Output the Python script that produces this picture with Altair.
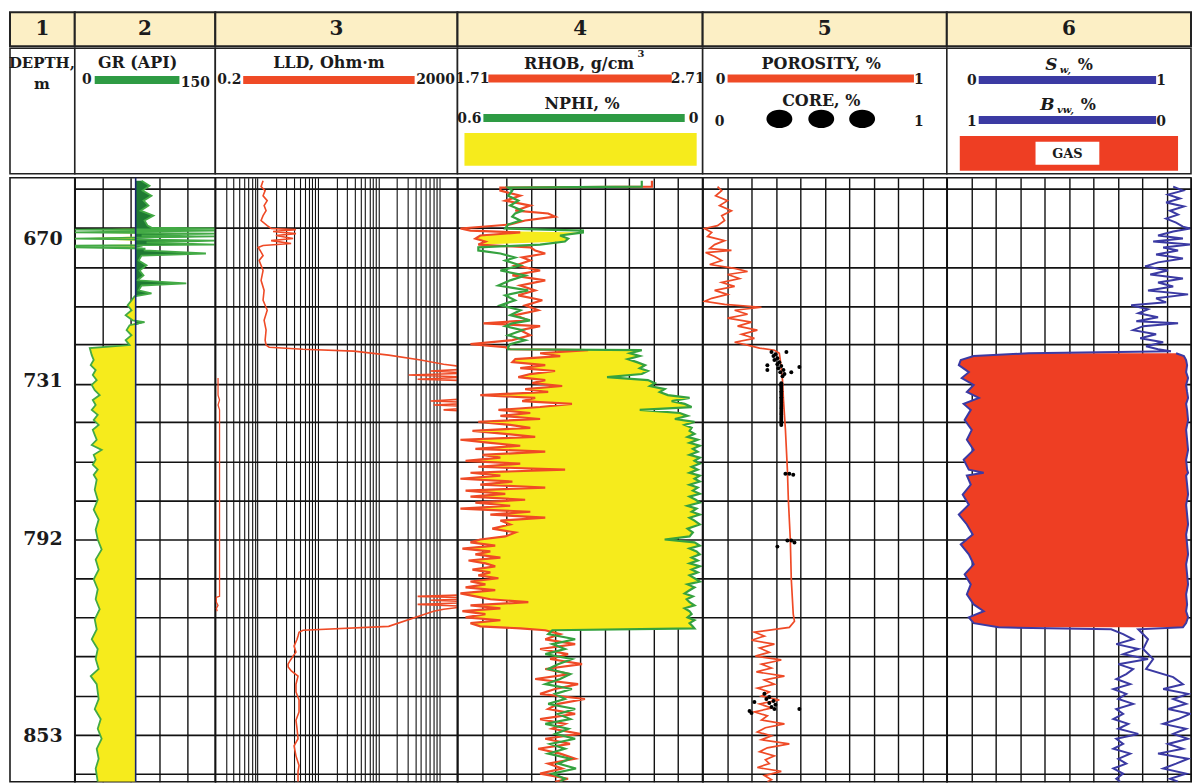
import altair as alt
import pandas as pd
import numpy as np

SERIF = "DejaVu Serif"
TXT = "#1b1b1b"
YELLOW = "#F6EB1C"
DKGREEN = "#1F7A33"
GRLINE = "#43AA45"
RED = "#EF4A26"
GREEN_BAR = "#2E9B44"
NPHI_GREEN = "#35A23F"
BLUE = "#3B3AA3"
GASRED = "#EE3E23"
TITLEBG = "#FCEFC5"
GRID = "#121212"
NAVY = "#18256B"

# ---------------- data ----------------
track_titles = ["1", "2", "3", "4", "5", "6"]
depth_labels = [670, 731, 792, 853]
grid_depths = [648.7, 665.3, 682.2, 698.8, 715.4, 732.0, 746.9, 761.9, 777.0,
               792.0, 804.0, 816.1, 828.1, 840.5, 852.5, 864.5]
GR_CUT = 65

gr_log = [(645.3, 71.3), (647.4, 79.8), (649.5, 72.4), (651.7, 81.9), (653.8, 73.4), (655.9, 78.7),
          (658.1, 70.2), (660.2, 84.0), (662.3, 74.5), (664.5, 77.7), (665.3, 81.9), (665.7, 150),
          (666.2, 0), (666.6, 150), (667.0, 71.3), (667.4, 0), (667.9, 150), (668.7, 71.3),
          (669.1, 150), (670.0, 0), (670.9, 150), (671.7, 76.6), (672.6, 150), (673.0, 0),
          (673.4, 72.4), (673.8, 0), (674.3, 74.5), (675.1, 74.5), (676.4, 140), (677.3, 71.3),
          (679.4, 68.1), (681.5, 76.6), (683.7, 69.2), (685.8, 73.4), (687.9, 67.0), (689.2, 119),
          (690.1, 71.3), (692.2, 68.1), (693.5, 81.9), (694.7, 63.8), (696.4, 60.6), (698.6, 56.4),
          (700.7, 60.6), (702.8, 54.3), (705.0, 61.7), (705.8, 74.5), (707.1, 58.5), (709.2, 55.3),
          (711.4, 60.6), (713.5, 54.3), (715.6, 58.5), (716.9, 16.0), (719.9, 18.1), (722.0, 20.2),
          (724.2, 17.0), (726.3, 22.3), (728.4, 19.2), (730.6, 23.4), (732.5, 18.1), (734.5, 21.3),
          (736.4, 26.6), (738.3, 19.2), (740.2, 22.3), (742.1, 18.1), (744.0, 24.5), (746.0, 20.2),
          (747.9, 25.5), (749.8, 19.2), (751.7, 21.3), (753.6, 23.4), (755.6, 18.1), (757.5, 28.7),
          (759.4, 20.2), (761.3, 22.3), (763.2, 19.2), (765.1, 24.5), (767.1, 20.2), (769.0, 23.4),
          (772.8, 21.3), (776.7, 24.5), (780.5, 20.2), (784.3, 25.5), (788.2, 22.3), (792.0, 24.5),
          (795.1, 28.7), (798.2, 22.3), (801.3, 25.5), (804.3, 20.2), (807.4, 24.5), (810.5, 22.3),
          (813.6, 26.6), (816.7, 21.3), (819.8, 23.4), (822.9, 18.1), (825.9, 24.5), (829.0, 22.3),
          (832.1, 25.5), (834.3, 17.0), (836.8, 23.4), (841.4, 25.5), (844.5, 21.3), (847.6, 27.7),
          (850.6, 24.5), (853.7, 28.7), (856.8, 23.4), (859.9, 25.5), (862.9, 22.3), (867.0, 24.5)]

lld_log = [(645.3, 1.23), (647.8, 1.14), (649.5, 1.33), (651.7, 1.23), (653.8, 1.44), (655.9, 1.28),
           (658.1, 1.38), (660.2, 1.23), (662.3, 1.14), (664.5, 1.44), (665.7, 1.67), (666.2, 4.3),
           (667.0, 1.8), (667.9, 4.3), (668.7, 2.0), (670.0, 3.85), (670.9, 1.67), (672.1, 3.57),
           (673.0, 1.23), (673.8, 1.02), (675.1, 1.10), (677.3, 1.23), (679.4, 1.06), (681.5, 1.14),
           (683.7, 1.23), (687.9, 1.14), (692.2, 1.28), (696.4, 1.23), (700.7, 1.44), (705.0, 1.28),
           (709.2, 1.38), (713.5, 1.33), (715.6, 1.38), (716.5, 1.55), (717.4, 5.62), (718.2, 38.8),
           (719.9, 146), (722.0, 492), (723.8, 1178), (725.0, 2600), (725.9, 3000), (726.7, 719),
           (727.6, 3000), (728.4, 312), (729.3, 3000), (730.2, 439), (731.0, 5000), (737.5, 5000),
           (738.7, 719), (739.4, 5000), (740.2, 806), (741.0, 5000), (742.1, 1178), (742.9, 5000),
           (809.0, 5000), (809.6, 439), (810.2, 5000), (810.8, 719), (811.4, 5000), (812.1, 439),
           (812.7, 3000), (813.6, 1178), (814.2, 806), (818.9, 146), (820.1, 5.62), (820.7, 4.83),
           (821.9, 4.65), (822.9, 4.48), (825.0, 4.0), (826.9, 4.3), (828.1, 3.85), (829.3, 3.5),
           (830.6, 3.18), (831.5, 3.2), (832.7, 3.6), (834.3, 4.65), (836.8, 4.3), (839.2, 4.3),
           (841.7, 4.83), (845.4, 4.83), (848.0, 4.3), (850.6, 4.48), (853.7, 4.65), (855.9, 4.0),
           (859.0, 4.3), (862.0, 4.83), (863.8, 4.65), (867.0, 4.65)]

lld_backup = [(729.7, 0.222), (736.4, 0.222), (738.3, 0.235), (740.2, 0.222), (742.1, 0.235),
              (746.0, 0.235), (809.6, 0.235), (809.9, 0.208), (811.4, 0.208), (812.4, 0.222),
              (813.3, 0.208), (814.2, 0.215)]

# depth, RHOB (g/cm3), NPHI (fraction)
dn_log = [(645.3, 2.503, 0.149), (647.8, 2.503, 0.149), (648.2, 1.885, 0.476), (649.5, 1.885, 0.466),
          (651.7, 1.966, 0.476), (653.8, 1.905, 0.451), (655.9, 2.007, 0.471), (658.1, 1.946, 0.441),
          (659.3, 2.080, 0.459), (660.6, 2.108, 0.466), (662.3, 1.986, 0.446), (664.0, 1.925, 0.476),
          (665.7, 1.722, 0.483), (666.6, 1.763, 0.293), (667.4, 1.966, 0.293), (668.7, 1.803, 0.349),
          (670.0, 1.783, 0.329), (671.3, 1.824, 0.337), (672.6, 1.795, 0.398), (673.8, 2.007, 0.549),
          (675.1, 2.027, 0.549), (676.4, 2.068, 0.495), (678.1, 1.974, 0.459), (679.4, 2.007, 0.483),
          (681.5, 1.946, 0.446), (683.7, 2.047, 0.495), (685.8, 1.934, 0.434), (687.9, 2.068, 0.471),
          (690.1, 1.966, 0.500), (692.2, 2.027, 0.427), (694.3, 1.958, 0.483), (696.4, 2.056, 0.459),
          (698.6, 1.986, 0.495), (700.7, 2.039, 0.446), (702.8, 1.946, 0.471), (705.0, 1.999, 0.422),
          (706.3, 1.816, 0.466), (707.5, 2.047, 0.483), (709.2, 1.966, 0.441), (711.4, 2.007, 0.476),
          (713.5, 1.934, 0.434), (715.2, 1.763, 0.471), (716.5, 1.905, 0.476), (717.4, 1.925, 0.476),
          (717.8, 2.243, 0.149), (719.1, 2.047, 0.178), (720.3, 2.129, 0.154), (721.6, 1.946, 0.183),
          (722.9, 1.934, 0.161), (724.2, 2.068, 0.141), (725.5, 1.966, 0.154), (726.7, 2.108, 0.134),
          (728.0, 2.007, 0.149), (729.3, 1.958, 0.234), (730.6, 2.068, 0.134), (731.8, 2.015, 0.117),
          (732.9, 2.137, 0.129), (734.1, 1.986, 0.093), (735.2, 2.080, 0.105), (736.4, 1.803, 0.085),
          (737.5, 2.027, 0.032), (738.7, 1.974, 0.076), (739.8, 2.177, 0.044), (741.0, 2.047, 0.027),
          (742.1, 1.877, 0.154), (743.3, 2.007, 0.056), (744.4, 1.885, 0.037), (745.6, 2.047, 0.068),
          (746.7, 1.795, 0.020), (747.9, 1.925, 0.044), (749.0, 2.007, 0.027), (750.2, 1.771, 0.032),
          (751.3, 1.905, 0.020), (752.5, 2.027, 0.037), (753.6, 1.722, 0.012), (754.8, 1.844, 0.032),
          (755.9, 1.966, 0.007), (757.1, 1.783, 0.024), (758.2, 2.068, 0.012), (759.4, 1.812, 0.032),
          (760.5, 1.885, 0.007), (761.7, 1.743, 0.020), (762.8, 1.966, 0.007), (764.0, 1.795, 0.027),
          (765.1, 2.149, 0.012), (766.3, 1.763, 0.032), (767.4, 1.885, 0.007), (768.6, 1.722, 0.020),
          (769.7, 1.934, 0.007), (770.9, 1.803, 0.032), (772.0, 2.068, 0.012), (773.2, 1.743, 0.024),
          (774.4, 1.905, 0.007), (775.5, 1.763, 0.032), (776.7, 1.986, 0.017), (777.8, 1.783, 0.007),
          (779.0, 1.925, 0.037), (780.1, 1.722, 0.015), (781.3, 2.007, 0.027), (782.4, 1.844, 0.007),
          (783.6, 2.068, 0.032), (784.7, 1.885, 0.020), (786.2, 1.925, 0.007), (787.8, 1.852, 0.037),
          (789.3, 1.946, 0.024), (790.8, 1.905, 0.032), (792.0, 1.803, 0.093), (792.9, 1.763, 0.020),
          (793.9, 1.864, 0.007), (794.8, 1.730, 0.032), (795.7, 1.844, 0.015), (796.6, 1.783, 0.007),
          (797.6, 1.885, 0.027), (798.5, 1.755, 0.012), (799.4, 1.824, 0.032), (800.3, 1.864, 0.007),
          (801.3, 1.771, 0.027), (802.2, 1.844, 0.012), (803.1, 1.795, 0.032), (804.0, 1.877, 0.020),
          (805.0, 1.763, 0.007), (805.9, 1.824, 0.037), (806.8, 1.743, 0.020), (807.7, 1.864, 0.032),
          (808.7, 1.722, 0.044), (809.6, 1.783, 0.024), (810.5, 1.844, 0.039), (811.4, 1.999, 0.032),
          (812.4, 1.763, 0.020), (813.3, 1.885, 0.044), (814.2, 1.730, 0.032), (815.1, 1.824, 0.027),
          (816.1, 1.743, 0.037), (817.0, 1.885, 0.020), (817.9, 1.763, 0.032), (818.9, 1.803, 0.024),
          (819.5, 1.966, 0.020), (820.1, 2.068, 0.368), (821.3, 2.129, 0.378), (822.9, 2.068, 0.312),
          (824.4, 2.190, 0.368), (825.9, 2.047, 0.337), (827.5, 2.161, 0.385), (829.0, 2.088, 0.320),
          (830.6, 2.218, 0.354), (832.1, 2.068, 0.378), (833.7, 2.169, 0.324), (835.2, 2.027, 0.349),
          (836.8, 2.202, 0.385), (838.3, 2.108, 0.320), (839.8, 2.047, 0.361), (841.4, 2.230, 0.337),
          (842.9, 2.121, 0.378), (844.5, 2.080, 0.312), (846.0, 2.190, 0.354), (847.6, 2.047, 0.324),
          (849.1, 2.149, 0.385), (850.6, 2.096, 0.329), (852.2, 2.210, 0.361), (853.7, 2.068, 0.312),
          (855.3, 2.169, 0.373), (856.8, 2.039, 0.337), (858.3, 2.129, 0.378), (859.9, 2.190, 0.324),
          (861.4, 2.080, 0.354), (862.9, 2.137, 0.310), (864.5, 2.047, 0.368), (866.1, 2.161, 0.337),
          (867.0, 2.108, 0.349)]

por_log = [(647.8, 0.061), (649.5, 0.078), (651.7, 0.053), (653.8, 0.102), (655.9, 0.069), (658.1, 0.118),
           (660.2, 0.078), (662.3, 0.090), (664.5, 0.061), (665.7, 0.008), (667.4, 0.037), (669.1, 0.020),
           (670.9, 0.090), (672.6, 0.049), (674.3, 0.029), (675.1, 0.118), (676.0, 0.012), (677.7, 0.049),
           (679.4, 0.078), (681.1, 0.029), (682.8, 0.131), (684.1, 0.184), (685.4, 0.102), (687.1, 0.151),
           (688.8, 0.078), (690.5, 0.131), (692.2, 0.049), (693.9, 0.102), (695.6, 0.037), (696.9, 0.008),
           (698.2, 0.090), (699.4, 0.241), (700.7, 0.131), (702.4, 0.184), (704.1, 0.102), (705.8, 0.200),
           (707.5, 0.143), (709.2, 0.224), (711.0, 0.159), (712.7, 0.212), (714.4, 0.131), (715.6, 0.184),
           (716.9, 0.233), (717.8, 0.294), (719.1, 0.314), (722.0, 0.318), (730.6, 0.327), (738.3, 0.331),
           (749.8, 0.339), (765.1, 0.347), (776.7, 0.351), (792.0, 0.359), (804.3, 0.363), (815.1, 0.371),
           (817.3, 0.376), (819.2, 0.355), (820.7, 0.212), (821.9, 0.253), (823.2, 0.200), (824.4, 0.294),
           (825.6, 0.233), (826.9, 0.273), (828.1, 0.216), (829.3, 0.322), (830.6, 0.241), (831.8, 0.282),
           (833.0, 0.220), (834.3, 0.335), (835.5, 0.253), (836.8, 0.294), (838.0, 0.224), (839.2, 0.273),
           (840.5, 0.241), (841.7, 0.314), (842.9, 0.233), (844.2, 0.282), (845.4, 0.212), (846.6, 0.265),
           (847.9, 0.241), (849.1, 0.335), (850.3, 0.257), (851.6, 0.224), (852.8, 0.282), (854.0, 0.241),
           (855.3, 0.355), (856.5, 0.265), (857.7, 0.233), (859.0, 0.294), (860.2, 0.257), (861.4, 0.273),
           (862.6, 0.224), (863.8, 0.322), (865.1, 0.253), (866.4, 0.282), (867.0, 0.265)]

core_log = [(718.6, 0.282), (719.5, 0.298), (720.3, 0.290), (721.2, 0.306), (722.0, 0.294), (722.9, 0.314),
            (723.8, 0.306), (724.6, 0.322), (725.5, 0.310), (726.3, 0.331), (727.2, 0.318), (728.0, 0.335),
            (728.9, 0.327), (718.6, 0.343), (724.2, 0.265), (726.3, 0.265), (725.0, 0.396), (727.2, 0.363),
            (731.8, 0.322), (732.6, 0.322), (733.3, 0.322), (734.1, 0.322), (734.9, 0.322), (735.6, 0.322),
            (736.4, 0.322), (737.2, 0.322), (737.9, 0.322), (738.7, 0.322), (739.4, 0.322), (740.2, 0.322),
            (741.0, 0.322), (741.7, 0.322), (742.5, 0.322), (743.3, 0.322), (744.0, 0.322), (744.8, 0.322),
            (745.6, 0.322), (746.4, 0.322), (747.1, 0.322), (747.9, 0.322),
            (766.7, 0.339), (766.7, 0.355), (767.1, 0.371), (792.3, 0.347), (792.3, 0.363), (792.9, 0.376),
            (794.2, 0.306), (839.8, 0.253), (840.8, 0.273), (841.4, 0.261), (842.0, 0.290), (842.6, 0.273),
            (843.2, 0.298), (843.9, 0.282), (844.5, 0.294), (842.3, 0.212), (845.1, 0.192), (845.7, 0.200),
            (844.5, 0.396)]

sw_log = [(647.8, 0.927), (649.5, 0.967), (651.2, 0.906), (652.9, 0.955), (654.6, 0.898), (656.3, 0.971),
          (658.1, 0.914), (659.8, 0.947), (661.5, 0.898), (663.2, 0.939), (664.9, 0.967), (665.7, 0.996),
          (667.0, 0.927), (668.7, 0.865), (670.0, 0.967), (671.3, 0.845), (672.6, 0.996), (673.8, 0.886),
          (675.1, 0.947), (676.8, 0.857), (678.5, 0.967), (680.2, 0.865), (681.9, 0.812), (683.7, 0.906),
          (685.4, 0.833), (687.1, 0.967), (688.8, 0.865), (690.5, 0.927), (692.2, 0.824), (693.9, 0.988),
          (695.6, 0.857), (697.3, 0.898), (698.6, 0.755), (700.3, 0.824), (702.0, 0.784), (703.7, 0.865),
          (705.4, 0.776), (706.3, 0.947), (707.5, 0.804), (709.2, 0.763), (711.0, 0.857), (712.7, 0.792),
          (714.4, 0.886), (716.1, 0.816), (717.4, 0.865), (718.2, 0.918),
          (719.1, 0.335), (720.3, 0.110), (722.0, 0.057), (724.2, 0.049), (727.2, 0.090), (729.7, 0.061),
          (732.5, 0.110), (735.2, 0.082), (737.5, 0.131), (739.8, 0.069), (742.1, 0.098), (746.0, 0.073),
          (749.8, 0.102), (753.6, 0.082), (757.5, 0.110), (761.3, 0.069), (765.1, 0.090), (766.3, 0.151),
          (767.4, 0.082), (770.9, 0.098), (774.7, 0.065), (778.6, 0.090), (782.4, 0.049), (786.2, 0.082),
          (790.1, 0.106), (793.5, 0.057), (796.6, 0.090), (799.7, 0.110), (802.8, 0.073), (805.9, 0.098),
          (809.0, 0.082), (812.1, 0.110), (814.2, 0.151), (816.1, 0.090), (817.9, 0.110), (819.2, 0.212),
          (819.8, 0.673), (821.3, 0.722), (822.9, 0.763), (824.4, 0.694), (825.9, 0.784), (827.5, 0.722),
          (829.0, 0.824), (830.6, 0.702), (832.1, 0.763), (833.7, 0.735), (835.2, 0.694), (836.8, 0.751),
          (838.3, 0.682), (839.8, 0.735), (841.4, 0.702), (842.9, 0.763), (844.5, 0.694), (846.0, 0.722),
          (847.6, 0.682), (849.1, 0.743), (850.6, 0.702), (852.2, 0.784), (853.7, 0.694), (855.3, 0.722),
          (856.8, 0.682), (858.3, 0.751), (859.9, 0.702), (861.4, 0.735), (862.9, 0.682), (864.5, 0.722),
          (866.1, 0.694), (867.0, 0.710)]

bvw_log = [(719.1, 0.061), (720.3, 0.029), (722.0, 0.020), (724.2, 0.016), (727.2, 0.020), (729.7, 0.012),
           (732.5, 0.020), (735.2, 0.016), (737.5, 0.012), (739.8, 0.020), (742.1, 0.016), (746.0, 0.012),
           (749.8, 0.020), (753.6, 0.016), (757.5, 0.012), (761.3, 0.020), (765.1, 0.016), (766.3, 0.012),
           (767.4, 0.020), (770.9, 0.016), (774.7, 0.012), (778.6, 0.020), (782.4, 0.016), (786.2, 0.012),
           (790.1, 0.020), (793.5, 0.016), (796.6, 0.012), (799.7, 0.020), (802.8, 0.016), (805.9, 0.012),
           (809.0, 0.020), (812.1, 0.016), (814.2, 0.020), (816.1, 0.012), (817.9, 0.020), (819.2, 0.033),
           (819.8, 0.216), (822.9, 0.176), (825.9, 0.196), (829.0, 0.155), (832.1, 0.184), (834.6, 0.073),
           (836.8, 0.033), (838.3, 0.114), (839.8, 0.012), (841.4, 0.073), (842.9, 0.020), (844.5, 0.094),
           (846.0, 0.004), (847.6, 0.053), (849.1, 0.114), (850.6, 0.020), (852.2, 0.073), (853.7, 0.012),
           (855.3, 0.094), (856.8, 0.033), (858.3, 0.135), (859.9, 0.012), (861.4, 0.061), (862.9, 0.114),
           (864.5, 0.020), (866.1, 0.086), (867.0, 0.053)]

# ---------------- layout ----------------
W = [65, 141, 243, 246, 245, 245]
H_TITLE, H_HEAD, H_LOG = 34, 126, 606

one = pd.DataFrame({"k": [0]})

# the printed depth axis is not uniform: piecewise depth scale through the labelled depths
YS = alt.Scale(domain=[644, 670, 731, 792, 867], range=[0, 61, 204, 363, 606], nice=False, zero=False)
YAX = alt.Axis(values=grid_depths, grid=True, gridColor=GRID, gridWidth=1.7, labels=False,
               ticks=False, domain=False, title=None)


def Y():
    return alt.Y("depth:Q", scale=YS, axis=YAX)


def XAX(vals, w=1.3):
    return alt.Axis(values=vals, grid=True, gridColor=GRID, gridWidth=w, labels=False, ticks=False,
                    domain=False, title=None, orient="top")


LOGVIEW = alt.ViewBackground(stroke="#1a1a1a", strokeWidth=1.6, fill="white")
HEADVIEW = alt.ViewBackground(stroke="#222222", strokeWidth=1.6, fill="white")


def anchor():
    # invisible mark that gives the panel real x/y scales so its width/height are kept
    return alt.Chart(one).mark_point(opacity=0, size=1).encode(
        x=alt.X("k:Q", axis=None), y=alt.Y("k:Q", axis=None))


def T(s, x, y, size=15, italic=False, align="center", color=TXT):
    kw = dict(text=s, font=SERIF, fontSize=size, fontWeight="bold", color=color, align=align,
              baseline="middle")
    if italic:
        kw["fontStyle"] = "italic"
    return alt.Chart(one).mark_text(**kw).encode(x=alt.value(x), y=alt.value(y))


def bar(x1, x2, y, color, w=8):
    return alt.Chart(one).mark_rule(color=color, strokeWidth=w, strokeCap="butt").encode(
        x=alt.value(x1), x2=alt.value(x2), y=alt.value(y))


def box(x1, x2, y1, y2, color):
    return alt.Chart(one).mark_rect(color=color).encode(
        x=alt.value(x1), x2=alt.value(x2), y=alt.value(y1), y2=alt.value(y2))


ELLIPSE = "M -1 0 A 1 0.7 0 1 0 1 0 A 1 0.7 0 1 0 -1 0 Z"


def blob(x, y):
    return alt.Chart(one).mark_point(shape=ELLIPSE, size=676, filled=True, color="black",
                                     opacity=1).encode(x=alt.value(x), y=alt.value(y))


# title row
title_panels = [
    alt.layer(anchor(), T(track_titles[i], W[i] / 2, 17, 20)).properties(
        width=W[i], height=H_TITLE,
        view=alt.ViewBackground(fill=TITLEBG, stroke="#222222", strokeWidth=2))
    for i in range(6)
]

# header row
heads = [
    [T("DEPTH,", 32, 15, 15), T("m", 32, 36, 15)],
    [T("GR (API)", 63, 15, 16), bar(20, 105, 32, GREEN_BAR), T("0", 12, 32, 14), T("150", 121, 35, 14)],
    [T("LLD, Ohm·m", 114, 15, 16), bar(28, 200, 32, RED), T("0.2", 14, 32, 14), T("2000", 221, 32, 14)],
    [T("RHOB, g/cm", 122, 16, 16), T("3", 184, 6, 10), bar(31, 215, 30.5, RED),
     T("1.71", 15, 31, 14), T("2.71", 231, 31, 14), T("NPHI, %", 125, 56, 16),
     bar(26, 228, 70, GREEN_BAR), T("0.6", 12, 71, 14), T("0", 237, 71, 14),
     box(7, 240, 85, 118, YELLOW)],
    [T("POROSITY, %", 119, 16, 16), bar(25, 212, 30.5, RED), T("0", 18, 32, 14), T("1", 217, 32, 14),
     T("CORE, %", 119, 53, 16), blob(77, 71), blob(119, 71), blob(160, 71),
     T("0", 17, 74, 14), T("1", 217, 74, 14)],
    [T("S", 105, 17, 17, italic=True), T("w,", 119, 22, 10, italic=True), T("%", 139, 17, 16),
     bar(32, 210, 32, BLUE), T("0", 25, 33, 14), T("1", 215, 33, 14),
     T("B", 101, 57, 17, italic=True), T("vw,", 119, 62, 10, italic=True), T("%", 142, 57, 16),
     bar(32, 210, 72, BLUE), T("1", 25, 74, 14), T("0", 215, 74, 14),
     box(13, 232, 88, 123, GASRED), box(89, 153, 94, 117, "white"), T("GAS", 121, 106, 13)],
]
head_panels = [alt.layer(anchor(), *heads[i]).properties(width=W[i], height=H_HEAD, view=HEADVIEW)
               for i in range(6)]

# ---------------- log tracks ----------------
# track 1: depth labels
lab_df = pd.DataFrame({"depth": depth_labels, "label": [str(d) for d in depth_labels]})
t1 = alt.layer(
    alt.Chart(lab_df).mark_text(font=SERIF, fontSize=19, fontWeight="bold", color=TXT,
                                baseline="middle", align="center").encode(
        y=alt.Y("depth:Q", scale=YS, axis=None), x=alt.value(33), text="label:N")
).properties(width=W[0], height=H_LOG, view=LOGVIEW)

# track 2: GR
gr_df = pd.DataFrame(gr_log, columns=["depth", "gr"])
gr_df["cut"] = GR_CUT
gr_df["lo"] = np.minimum(gr_df["gr"], GR_CUT)
gr_df["hi"] = np.maximum(gr_df["gr"], GR_CUT)
GRS = alt.Scale(domain=[0, 150], nice=False, zero=False)
ax2 = XAX([0, 30, 60, 90, 120, 150], 1.4)
t2 = alt.layer(
    alt.Chart(gr_df).mark_area(orient="horizontal", color=YELLOW, clip=True).encode(
        y=Y(), x=alt.X("lo:Q", scale=GRS, axis=ax2), x2="cut:Q"),
    alt.Chart(gr_df).mark_area(orient="horizontal", color=DKGREEN, clip=True).encode(
        y=Y(), x=alt.X("cut:Q", scale=GRS, axis=ax2), x2="hi:Q"),
    alt.Chart(gr_df).mark_line(color=GRLINE, strokeWidth=1.8, clip=True).encode(
        y=Y(), x=alt.X("gr:Q", scale=GRS, axis=ax2), order="depth:Q"),
    alt.Chart(pd.DataFrame({"cut": [GR_CUT]})).mark_rule(color=NAVY, strokeWidth=1.6).encode(
        x=alt.X("cut:Q", scale=GRS, axis=ax2)),
).properties(width=W[1], height=H_LOG, view=LOGVIEW)

# track 3: LLD (log)
lld_df = pd.DataFrame(lld_log, columns=["depth", "lld"])
bk_df = pd.DataFrame(lld_backup, columns=["depth", "lld"])
LLDS = alt.Scale(type="log", domain=[0.2, 2000], nice=False)
lld_ticks = [m * 10.0 ** k for k in range(-1, 4) for m in range(1, 10) if 0.2 <= m * 10.0 ** k <= 2000]
ax3 = XAX(lld_ticks, 1.1)
t3 = alt.layer(
    alt.Chart(lld_df).mark_line(color=RED, strokeWidth=1.6, clip=True).encode(
        y=Y(), x=alt.X("lld:Q", scale=LLDS, axis=ax3), order="depth:Q"),
    alt.Chart(bk_df).mark_line(color=RED, strokeWidth=1.3, clip=True).encode(
        y=Y(), x=alt.X("lld:Q", scale=LLDS, axis=ax3), order="depth:Q"),
).properties(width=W[2], height=H_LOG, view=LOGVIEW)

# track 4: RHOB / NPHI with gas crossover
dn_df = pd.DataFrame(dn_log, columns=["depth", "rhob", "nphi"])
dn_df["nphi_eq"] = 1.71 + (0.6 - dn_df["nphi"]) / 0.6
zone = ((dn_df["depth"] >= 667.0) & (dn_df["depth"] <= 672.0)) | \
       ((dn_df["depth"] >= 717.6) & (dn_df["depth"] <= 820.2))
dn_df["fill_r"] = np.where(zone & (dn_df["nphi_eq"] > dn_df["rhob"]), dn_df["nphi_eq"], dn_df["rhob"])
RHS = alt.Scale(domain=[1.71, 2.71], nice=False, zero=False)
NPS = alt.Scale(domain=[0, 0.6], reverse=True, nice=False, zero=False)
rhob_ticks = [round(1.71 + 0.1 * i, 2) for i in range(11)]
t4 = alt.layer(
    alt.Chart(dn_df).mark_area(orient="horizontal", color=YELLOW, clip=True).encode(
        y=Y(), x=alt.X("rhob:Q", scale=RHS, axis=XAX(rhob_ticks, 1.4)), x2="fill_r:Q"),
    alt.Chart(dn_df).mark_line(color=RED, strokeWidth=2.2, clip=True).encode(
        y=Y(), x=alt.X("rhob:Q", scale=RHS, axis=None), order="depth:Q"),
    alt.Chart(dn_df).mark_line(color=NPHI_GREEN, strokeWidth=2.2, clip=True).encode(
        y=Y(), x=alt.X("nphi:Q", scale=NPS, axis=None), order="depth:Q"),
).resolve_scale(x="independent").properties(width=W[3], height=H_LOG, view=LOGVIEW)

# track 5: porosity and core
por_df = pd.DataFrame(por_log, columns=["depth", "phi"])
core_df = pd.DataFrame(core_log, columns=["depth", "phi"])
FS = alt.Scale(domain=[0, 1], nice=False, zero=False)
frac_ticks = [round(0.1 * i, 1) for i in range(11)]
ax5 = XAX(frac_ticks, 1.4)
t5 = alt.layer(
    alt.Chart(por_df).mark_line(color=RED, strokeWidth=1.7, clip=True).encode(
        y=Y(), x=alt.X("phi:Q", scale=FS, axis=ax5), order="depth:Q"),
    alt.Chart(core_df).mark_point(shape="circle", size=16, filled=True, color="black", opacity=1,
                                  clip=True).encode(
        y=Y(), x=alt.X("phi:Q", scale=FS, axis=ax5)),
).properties(width=W[4], height=H_LOG, view=LOGVIEW)

# track 6: Sw, Bvw and gas
sw_df = pd.DataFrame(sw_log, columns=["depth", "sw"])
bvw_df = pd.DataFrame(bvw_log, columns=["depth", "bvw"])
gas_df = sw_df.merge(bvw_df, on="depth")
gas_df = gas_df[(gas_df["depth"] >= 719.0) & (gas_df["depth"] <= 819.3)].copy()
gas_df["right"] = 1 - gas_df["bvw"]
BVS = alt.Scale(domain=[0, 1], reverse=True, nice=False, zero=False)
t6 = alt.layer(
    alt.Chart(gas_df).mark_area(orient="horizontal", color=GASRED, clip=True).encode(
        y=Y(), x=alt.X("sw:Q", scale=FS, axis=None), x2="right:Q"),
    alt.Chart(sw_df).mark_line(color=BLUE, strokeWidth=2.0, clip=True).encode(
        y=Y(), x=alt.X("sw:Q", scale=FS, axis=XAX(frac_ticks, 1.4)), order="depth:Q"),
    alt.Chart(bvw_df).mark_line(color=BLUE, strokeWidth=2.0, clip=True).encode(
        y=Y(), x=alt.X("bvw:Q", scale=BVS, axis=None), order="depth:Q"),
).resolve_scale(x="independent").properties(width=W[5], height=H_LOG, view=LOGVIEW)

title_row = alt.hconcat(*title_panels, spacing=0, bounds="flush").resolve_scale(
    x="independent", y="independent")
head_row = alt.hconcat(*head_panels, spacing=0, bounds="flush").resolve_scale(
    x="independent", y="independent")
log_row = alt.hconcat(t1, t2, t3, t4, t5, t6, spacing=0, bounds="flush").resolve_scale(
    x="independent", y="independent")

top_block = alt.vconcat(title_row, head_row, spacing=0).resolve_scale(
    x="independent", y="independent")
chart = alt.vconcat(top_block, log_row, spacing=1).resolve_scale(
    x="independent", y="independent").properties(
    padding={"left": 0, "top": 2, "right": 0, "bottom": 0}
)

chart.save("out.html", embed_options={"renderer": "svg", "actions": False})
